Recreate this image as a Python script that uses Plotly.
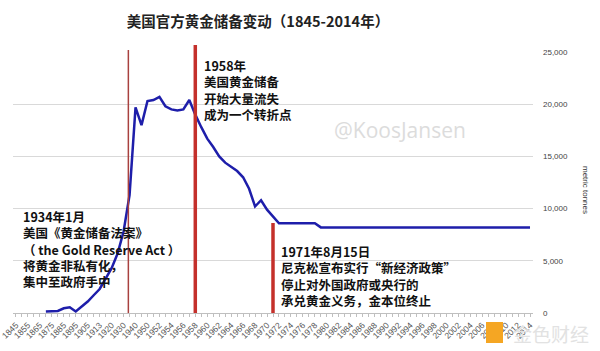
import plotly.graph_objects as go

# ---------------- data ----------------
categories = ["1845", "1850", "1855", "1860", "1865", "1870", "1875", "1880", "1885", "1890",
              "1895", "1900", "1905", "1910", "1913", "1915", "1920", "1925", "1930", "1935",
              "1940", "1945"] + [str(y) for y in range(1950, 2015)]

early_reserves = [None, None, None, None, None, 150, 150, 200, 450, 550,
                  150, 650, 1100, 1700, 2300, 3300, 4300, 5700, 7800, 11300,
                  19700, 18000]
reserves_1950_1971 = [20300, 20400, 20700, 19800, 19500, 19400, 19500, 20400, 19000, 17800,
                      16700, 15900, 15000, 14400, 14000, 13600, 13000, 11900, 10200, 10800,
                      9900, 9300]
reserves_1972_1978 = [8600, 8600, 8600, 8600, 8600, 8600, 8600]
reserves_1979_2014 = [8200, 8200, 8200, 8200, 8200, 8200, 8200, 8200, 8200, 8200,
                      8200, 8200, 8200, 8200, 8200, 8200, 8200, 8200, 8200, 8200,
                      8200, 8200, 8200, 8200, 8200, 8200, 8200, 8200, 8200, 8200,
                      8200, 8200, 8200, 8200, 8200, 8200]
reserves = early_reserves + reserves_1950_1971 + reserves_1972_1978 + reserves_1979_2014

y_ticks = [0, 5000, 10000, 15000, 20000, 25000]
y_tick_labels = ["0", "5,000", "10,000", "15,000", "20,000", "25,000"]

title_text = "美国官方黄金储备变动（1845-2014年）"
event_years = [1934, 1958, 1971]
event_texts = [
    "1934年1月<br>美国《黄金储备法案》<br>（ the Gold Reserve Act ）<br>将黄金非私有化，<br>集中至政府手中",
    "1958年<br>美国黄金储备<br>开始大量流失<br>成为一个转折点",
    "1971年8月15日<br>尼克松宣布实行“新经济政策”<br>停止对外国政府或央行的<br>承兑黄金义务，金本位终止",
]

# ---------------- helpers ----------------
years_num = [int(c) for c in categories]


def year_to_index(year):
    for i in range(len(years_num) - 1):
        a, b = years_num[i], years_num[i + 1]
        if a <= year <= b:
            return i + (year - a) / (b - a)
    return len(years_num) - 1


def bold_lines(t):
    return "<br>".join("<b>" + s + "</b>" for s in t.split("<br>"))


tick_text = [c if i % 2 == 0 else "" for i, c in enumerate(categories)]

CJK = "Noto Sans CJK SC, Noto Sans, sans-serif"
L, R, T, B = 13, 533, 52, 313  # plot area in pixels
PW, PH = R - L, B - T


def px(x):
    return (x - L) / PW


def py(y):
    return (B - y) / PH


fig = go.Figure()
fig.add_trace(go.Scatter(
    x=categories, y=reserves, mode="lines",
    line=dict(color="#1e1eaa", width=2.5),
    connectgaps=False, hoverinfo="skip", showlegend=False,
))

# event lines
line_styles = [dict(color="#a8413f", width=1.5), dict(color="#c4302b", width=3.5),
               dict(color="#c4302b", width=3.5)]
line_tops = [py(50), py(45), py(223)]
for yr, st, top in zip(event_years, line_styles, line_tops):
    xi = year_to_index(yr)
    fig.add_shape(type="line", xref="x", yref="paper", x0=xi, x1=xi, y0=0, y1=top,
                  line=st, layer="above")

# event annotations
ann_font = dict(family=CJK, size=12.5, color="#111111")
ann_pos = [(21, 205), (202, 54), (279, 240)]
for (ax, ay), t in zip(ann_pos, event_texts):
    fig.add_annotation(xref="paper", yref="paper", x=px(ax), y=py(ay),
                       xanchor="left", yanchor="top", align="left", showarrow=False,
                       text=bold_lines(t), font=ann_font)

# watermark texts
fig.add_annotation(xref="paper", yref="paper", x=px(400), y=py(130),
                   xanchor="center", yanchor="middle", showarrow=False,
                   text="@KoosJansen", font=dict(family="Open Sans, sans-serif", size=21, color="#dcdcdc"))
fig.add_annotation(xref="paper", yref="paper", x=px(586), y=py(190),
                   xanchor="center", yanchor="middle", showarrow=False, textangle=90,
                   text="metric tonnes", font=dict(family="Liberation Sans, sans-serif", size=8, color="#333333"))
fig.add_annotation(xref="paper", yref="paper", x=px(551), y=py(333),
                   xanchor="center", yanchor="middle", showarrow=False,
                   text="金色财经", font=dict(family=CJK, size=19, color="#e2e2e2"))
fig.add_shape(type="rect", xref="paper", yref="paper", x0=px(486), x1=px(503), y0=py(343), y1=py(322),
              fillcolor="#f5a623", line=dict(width=0), layer="above")

fig.update_layout(
    width=600, height=351,
    margin=dict(l=L, r=600 - R, t=T, b=351 - B),
    paper_bgcolor="white", plot_bgcolor="white",
    title=dict(text="<b>" + title_text + "</b>", x=258 / 600, xanchor="center",
               y=1 - 22 / 351, yanchor="middle", yref="container",
               font=dict(family=CJK, size=14.5, color="#222222")),
    xaxis=dict(type="category", categoryorder="array", categoryarray=categories,
               tickmode="array", tickvals=categories, ticktext=tick_text,
               tickangle=-45, tickfont=dict(family="Liberation Sans, sans-serif", size=8.5, color="#555555"),
               ticks="outside", ticklen=3, tickcolor="#bfbfbf",
               showline=True, linecolor="#bfbfbf", linewidth=1, automargin=False,
               showgrid=False, range=[-0.5, len(categories) - 0.5], fixedrange=True),
    yaxis=dict(side="right", range=[0, 25000], tickmode="array", tickvals=y_ticks, ticktext=y_tick_labels,
               tickfont=dict(family="Liberation Sans, sans-serif", size=8, color="#444444"),
               showgrid=True, gridcolor="#d9d9d9", gridwidth=1, zeroline=False, automargin=False,
               ticklabelstandoff=9, showline=False, fixedrange=True),
)

fig.write_html("out.html")
